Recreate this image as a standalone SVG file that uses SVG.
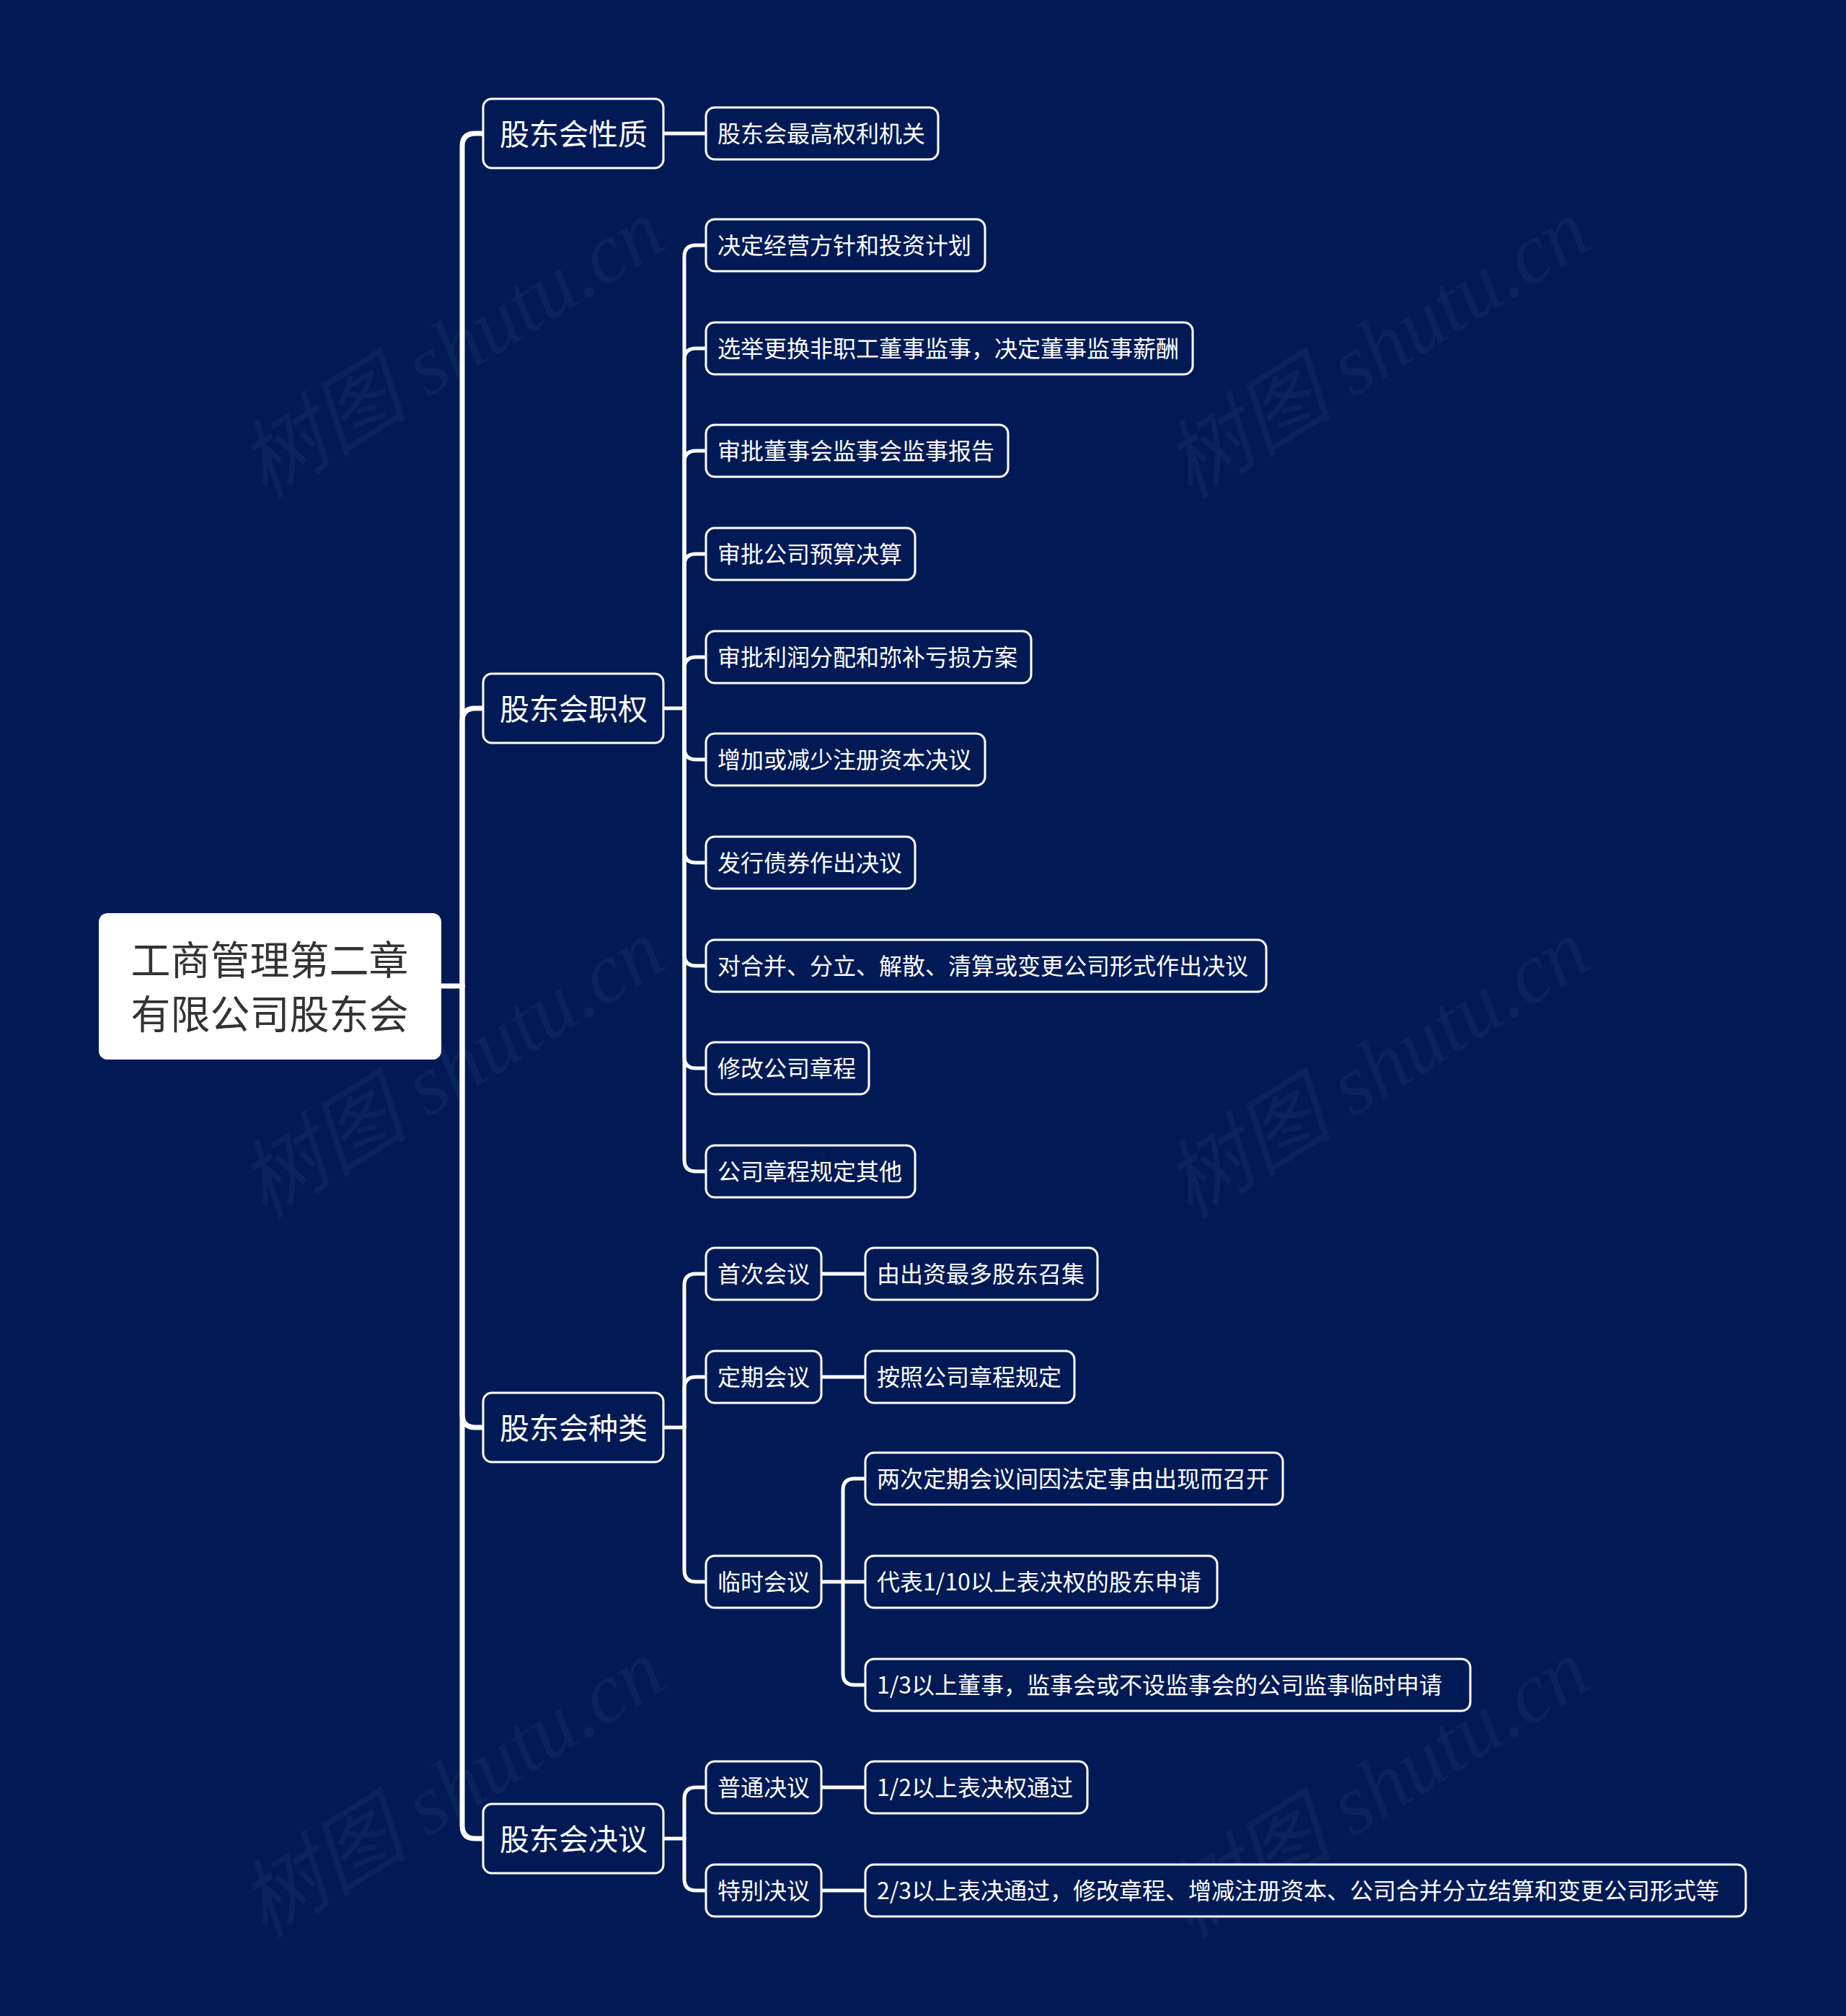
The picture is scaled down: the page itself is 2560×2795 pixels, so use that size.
<svg xmlns="http://www.w3.org/2000/svg" width="2560" height="2795" viewBox="0 0 2560 2795">
<style>
.bg{fill:#011a56}
.wm{font-family:"Liberation Serif","Noto Sans CJK SC",serif;font-size:118px;font-style:italic;fill:#ffffff;fill-opacity:0.045}
.c{fill:none;stroke:#ffffff;stroke-linecap:round;stroke-linejoin:round}
.c1{stroke-width:7}
.c2{stroke-width:5}
.root rect{fill:#ffffff;stroke:none}
.root text{font-family:"Noto Sans CJK SC","Noto Sans",sans-serif;font-size:55px;fill:#333333;text-anchor:middle;dominant-baseline:central}
.n rect{fill:#011a56;stroke:#ffffff;stroke-width:3}
.n text{font-family:"Noto Sans CJK SC","Noto Sans",sans-serif;fill:#ffffff;dominant-baseline:central}
.l1 text{font-size:41px}
.l2 text{font-size:32px}
</style>
<rect class="bg" x="0" y="0" width="2560" height="2795"/>
<g id="watermarks">
<text class="wm" transform="translate(648,517) rotate(-32)" text-anchor="middle">树图 shutu.cn</text>
<text class="wm" transform="translate(1931,517) rotate(-32)" text-anchor="middle">树图 shutu.cn</text>
<text class="wm" transform="translate(648,1515) rotate(-32)" text-anchor="middle">树图 shutu.cn</text>
<text class="wm" transform="translate(1931,1515) rotate(-32)" text-anchor="middle">树图 shutu.cn</text>
<text class="wm" transform="translate(648,2513) rotate(-32)" text-anchor="middle">树图 shutu.cn</text>
<text class="wm" transform="translate(1931,2513) rotate(-32)" text-anchor="middle">树图 shutu.cn</text>
</g>
<g id="connectors">
<path class="c c1" d="M612,1367 H641"/>
<path class="c c1" d="M641,1367 V203 Q641,185 659,185 H670"/>
<path class="c c1" d="M641,1367 V1000 Q641,982 659,982 H670"/>
<path class="c c1" d="M641,1367 V1961 Q641,1979 659,1979 H670"/>
<path class="c c1" d="M641,1367 V2531 Q641,2549 659,2549 H670"/>
<path class="c c2" d="M920,185 H979"/>
<path class="c c2" d="M920,982 H949"/>
<path class="c c2" d="M949,982 V356 Q949,340 965,340 H979"/>
<path class="c c2" d="M949,982 V499 Q949,483 965,483 H979"/>
<path class="c c2" d="M949,982 V641 Q949,625 965,625 H979"/>
<path class="c c2" d="M949,982 V784 Q949,768 965,768 H979"/>
<path class="c c2" d="M949,982 V927 Q949,911 965,911 H979"/>
<path class="c c2" d="M949,982 V1037 Q949,1053 965,1053 H979"/>
<path class="c c2" d="M949,982 V1180 Q949,1196 965,1196 H979"/>
<path class="c c2" d="M949,982 V1323 Q949,1339 965,1339 H979"/>
<path class="c c2" d="M949,982 V1465 Q949,1481 965,1481 H979"/>
<path class="c c2" d="M949,982 V1608 Q949,1624 965,1624 H979"/>
<path class="c c2" d="M920,1979 H949"/>
<path class="c c2" d="M949,1979 V1782 Q949,1766 965,1766 H979"/>
<path class="c c2" d="M949,1979 V1925 Q949,1909 965,1909 H979"/>
<path class="c c2" d="M949,1979 V2177 Q949,2193 965,2193 H979"/>
<path class="c c2" d="M1139,1766 H1200"/>
<path class="c c2" d="M1139,1909 H1200"/>
<path class="c c2" d="M1139,2193 H1169"/>
<path class="c c2" d="M1169,2193 V2066 Q1169,2050 1185,2050 H1200"/>
<path class="c c2" d="M1169,2193 H1200"/>
<path class="c c2" d="M1169,2193 V2320 Q1169,2336 1185,2336 H1200"/>
<path class="c c2" d="M920,2549 H949"/>
<path class="c c2" d="M949,2549 V2494 Q949,2478 965,2478 H979"/>
<path class="c c2" d="M949,2549 V2605 Q949,2621 965,2621 H979"/>
<path class="c c2" d="M1139,2478 H1200"/>
<path class="c c2" d="M1139,2621 H1200"/>
</g>
<g id="root" class="root"><rect x="137" y="1266" width="475" height="203" rx="12"/><text x="374" y="1327">工商管理第二章</text><text x="374" y="1402">有限公司股东会</text></g>
<g id="n-xingzhi" class="n l1"><rect x="670" y="137" width="250" height="96" rx="12"/><text x="693" y="183">股东会性质</text></g>
<g id="n-zhiquan" class="n l1"><rect x="670" y="934" width="250" height="96" rx="12"/><text x="693" y="980">股东会职权</text></g>
<g id="n-zhonglei" class="n l1"><rect x="670" y="1931" width="250" height="96" rx="12"/><text x="693" y="1977">股东会种类</text></g>
<g id="n-jueyi" class="n l1"><rect x="670" y="2501" width="250" height="96" rx="12"/><text x="693" y="2547">股东会决议</text></g>
<g id="n-zuigao" class="n l2"><rect x="979" y="149" width="322" height="72" rx="12"/><text x="995" y="183">股东会最高权利机关</text></g>
<g id="n-q1" class="n l2"><rect x="979" y="304" width="387" height="72" rx="12"/><text x="995" y="338">决定经营方针和投资计划</text></g>
<g id="n-q2" class="n l2"><rect x="979" y="447" width="675" height="72" rx="12"/><text x="995" y="481">选举更换非职工董事监事，决定董事监事薪酬</text></g>
<g id="n-q3" class="n l2"><rect x="979" y="589" width="419" height="72" rx="12"/><text x="995" y="623">审批董事会监事会监事报告</text></g>
<g id="n-q4" class="n l2"><rect x="979" y="732" width="290" height="72" rx="12"/><text x="995" y="766">审批公司预算决算</text></g>
<g id="n-q5" class="n l2"><rect x="979" y="875" width="451" height="72" rx="12"/><text x="995" y="909">审批利润分配和弥补亏损方案</text></g>
<g id="n-q6" class="n l2"><rect x="979" y="1017" width="387" height="72" rx="12"/><text x="995" y="1051">增加或减少注册资本决议</text></g>
<g id="n-q7" class="n l2"><rect x="979" y="1160" width="290" height="72" rx="12"/><text x="995" y="1194">发行债券作出决议</text></g>
<g id="n-q8" class="n l2"><rect x="979" y="1303" width="777" height="72" rx="12"/><text x="995" y="1337">对合并、分立、解散、清算或变更公司形式作出决议</text></g>
<g id="n-q9" class="n l2"><rect x="979" y="1445" width="226" height="72" rx="12"/><text x="995" y="1479">修改公司章程</text></g>
<g id="n-q10" class="n l2"><rect x="979" y="1588" width="290" height="72" rx="12"/><text x="995" y="1622">公司章程规定其他</text></g>
<g id="n-shouci" class="n l2"><rect x="979" y="1730" width="160" height="72" rx="12"/><text x="995" y="1764">首次会议</text></g>
<g id="n-shouci-c" class="n l2"><rect x="1200" y="1730" width="322" height="72" rx="12"/><text x="1216" y="1764">由出资最多股东召集</text></g>
<g id="n-dingqi" class="n l2"><rect x="979" y="1873" width="160" height="72" rx="12"/><text x="995" y="1907">定期会议</text></g>
<g id="n-dingqi-c" class="n l2"><rect x="1200" y="1873" width="290" height="72" rx="12"/><text x="1216" y="1907">按照公司章程规定</text></g>
<g id="n-linshi" class="n l2"><rect x="979" y="2157" width="160" height="72" rx="12"/><text x="995" y="2191">临时会议</text></g>
<g id="n-linshi-1" class="n l2"><rect x="1200" y="2014" width="579" height="72" rx="12"/><text x="1216" y="2048">两次定期会议间因法定事由出现而召开</text></g>
<g id="n-linshi-2" class="n l2"><rect x="1200" y="2157" width="488" height="72" rx="12"/><text x="1216" y="2191">代表1/10以上表决权的股东申请</text></g>
<g id="n-linshi-3" class="n l2"><rect x="1200" y="2300" width="839" height="72" rx="12"/><text x="1216" y="2334">1/3以上董事，监事会或不设监事会的公司监事临时申请</text></g>
<g id="n-putong" class="n l2"><rect x="979" y="2442" width="160" height="72" rx="12"/><text x="995" y="2476">普通决议</text></g>
<g id="n-putong-c" class="n l2"><rect x="1200" y="2442" width="308" height="72" rx="12"/><text x="1216" y="2476">1/2以上表决权通过</text></g>
<g id="n-tebie" class="n l2"><rect x="979" y="2585" width="160" height="72" rx="12"/><text x="995" y="2619">特别决议</text></g>
<g id="n-tebie-c" class="n l2"><rect x="1200" y="2585" width="1221" height="72" rx="12"/><text x="1216" y="2619">2/3以上表决通过，修改章程、增减注册资本、公司合并分立结算和变更公司形式等</text></g>
</svg>
